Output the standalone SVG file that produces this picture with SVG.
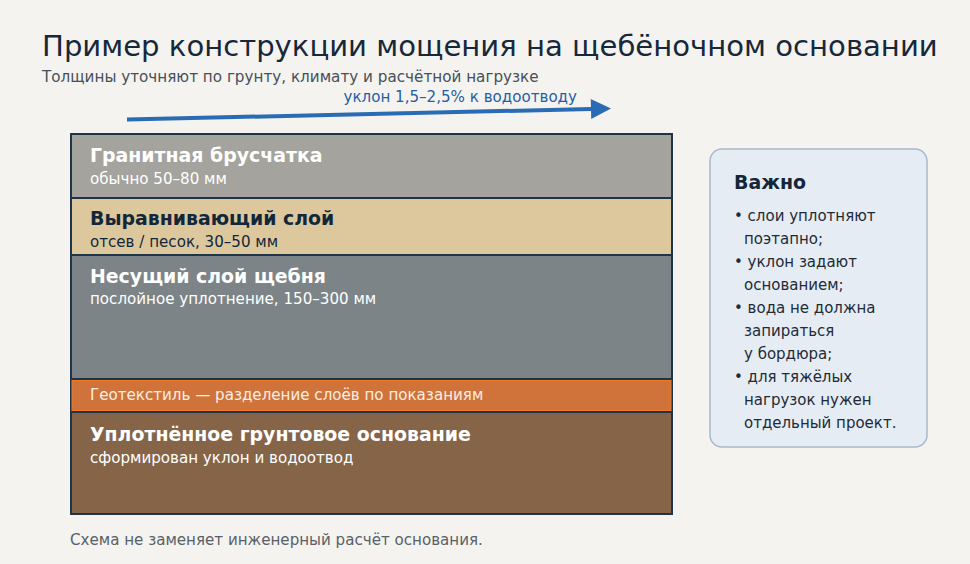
<svg xmlns="http://www.w3.org/2000/svg" width="970" height="564" viewBox="0 0 970 564">
<style>
text{font-family:"DejaVu Sans","Noto Sans",sans-serif}
.h{font-size:18.9px;font-weight:bold}
.s{font-size:15.1px}
.w{fill:#ffffff}
.d{fill:#13263a}
.b{font-size:15px;fill:#1e2b38}
</style>
<defs>
<marker id="ah" viewBox="0 0 10 10" refX="0" refY="5" markerWidth="5.5" markerHeight="5" orient="auto" markerUnits="strokeWidth">
<path d="M0,0 L10,5 L0,10 z" fill="#2a6cb3"/>
</marker>
</defs>
<rect width="970" height="564" fill="#f4f3ef"/>
<text x="42" y="56" font-size="29.1" fill="#17283a">Пример конструкции мощения на щебёночном основании</text>
<text x="42" y="82" font-size="15.2" fill="#46505a">Толщины уточняют по грунту, климату и расчётной нагрузке</text>
<text x="577" y="102" font-size="15.1" fill="#1f5fa6" text-anchor="end">уклон 1,5–2,5% к водоотводу</text>
<g id="connectors">
<line x1="127" y1="119.5" x2="591" y2="109" stroke="#2a6cb3" stroke-width="4" marker-end="url(#ah)"/>
</g>
<g id="layers">
<rect x="70" y="133" width="603" height="382" fill="#1f3447"/>
<g id="granite">
<rect x="72" y="135" width="599" height="62" fill="#a5a39d"/>
<text x="90" y="162" class="h w">Гранитная брусчатка</text>
<text x="90" y="184" class="s w">обычно 50–80 мм</text>
</g>
<g id="leveling">
<rect x="72" y="199" width="599" height="55" fill="#dcc89c"/>
<text x="90" y="225" class="h d">Выравнивающий слой</text>
<text x="90" y="247" class="s d">отсев / песок, 30–50 мм</text>
</g>
<g id="base">
<rect x="72" y="256" width="599" height="122" fill="#7c8487"/>
<text x="90" y="283" class="h w">Несущий слой щебня</text>
<text x="90" y="304" class="s w">послойное уплотнение, 150–300 мм</text>
</g>
<g id="geotextile">
<rect x="72" y="380.5" width="599" height="30" fill="#d0733a" stroke="#f07a25" stroke-width="1"/>
<text x="90" y="400" class="s" fill="#fbeee4">Геотекстиль — разделение слоёв по показаниям</text>
</g>
<g id="subgrade">
<rect x="72" y="413" width="599" height="100" fill="#856448"/>
<text x="90" y="441" class="h w">Уплотнённое грунтовое основание</text>
<text x="90" y="463" class="s w">сформирован уклон и водоотвод</text>
</g>
</g>
<g id="note">
<rect x="710" y="149" width="217" height="298" rx="12" fill="#e6ecf4" stroke="#a9b9c9" stroke-width="1.5"/>
<text x="734" y="189" font-size="18.9" font-weight="bold" fill="#13263a">Важно</text>
<text class="b" x="734" y="221">• слои уплотняют</text>
<text class="b" x="744" y="244">поэтапно;</text>
<text class="b" x="734" y="267">• уклон задают</text>
<text class="b" x="744" y="290">основанием;</text>
<text class="b" x="734" y="313">• вода не должна</text>
<text class="b" x="744" y="336">запираться</text>
<text class="b" x="744" y="359">у бордюра;</text>
<text class="b" x="734" y="382">• для тяжёлых</text>
<text class="b" x="744" y="405">нагрузок нужен</text>
<text class="b" x="744" y="428">отдельный проект.</text>
</g>
<text x="70" y="545" font-size="15.1" fill="#5a6068">Схема не заменяет инженерный расчёт основания.</text>
</svg>
